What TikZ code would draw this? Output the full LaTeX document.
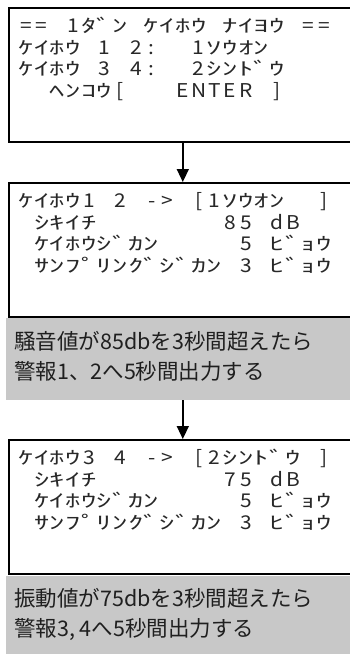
\documentclass[tikz,border=0pt]{standalone}
\usepackage{fontspec}
\usetikzlibrary{arrows.meta}
\newfontfamily\kanafont[FakeStretch=1.7]{Noto Sans CJK JP}
\newfontfamily\latfont[FakeStretch=1.1]{Noto Sans CJK JP}
\newfontfamily\jpfont{Noto Sans CJK JP}
\definecolor{panelgray}{RGB}{200,200,200}
\definecolor{lcdink}{RGB}{40,40,40}
\newlength\lcdcw \setlength\lcdcw{15.7pt}
\def\lcdend{LCDEND}
\def\lcd#1{\lcdloop#1\lcdend}
\def\lcdloop#1{\ifx\lcdend#1\else\lcdcell{#1}\expandafter\lcdloop\fi}
\def\lcdcell#1{\if.#1\hbox to\lcdcw{\hss}\else\ifnum`#1<128 \hbox to\lcdcw{\hss\latfont\fontsize{19}{19}\selectfont#1\hss}\else\hbox to\lcdcw{\hss\kanafont\fontsize{18}{18}\selectfont#1\hss}\fi\fi}
\begin{document}
\begin{tikzpicture}[x=1pt,y=-1pt,
  lcdbox/.style={draw=black, line width=1.6pt, fill=white, anchor=north west, minimum width=348pt, minimum height=134pt, inner sep=0pt},
  graypanel/.style={fill=panelgray, anchor=north west, minimum width=345pt, inner sep=0pt},
  lcdline/.style={anchor=base west, inner sep=0pt, text=lcdink},
  graytext/.style={anchor=base west, inner sep=0pt, font=\jpfont\fontsize{21.5}{24}\selectfont, text=black!88},
  flow/.style={line width=1.5pt, -{Triangle[width=12pt,length=13pt]}}]
\useasboundingbox (0,0) rectangle (349,654);
\fill[white] (0,0) rectangle (349,654);
% box 1
\node[lcdbox] (b1) at (8,7) {};
\node[lcdline] (b1l1) at (18,32.5) {\lcd{==.1ﾀﾞﾝ.ｹｲﾎｳ.ﾅｲﾖｳ.==}};
\node[lcdline] (b1l2) at (18,54) {\lcd{ｹｲﾎｳ.1.2:..1ｿｳｵﾝ}};
\node[lcdline] (b1l3) at (18,75.5) {\lcd{ｹｲﾎｳ.3.4:..2ｼﾝﾄﾞｳ}};
\node[lcdline] (b1l4) at (18,97) {\lcd{..ﾍﾝｺｳ[...ENTER.]}};
% box 2
\node[lcdbox] (b2) at (8,182) {};
\node[lcdline] (b2l1) at (18,207.5) {\lcd{ｹｲﾎｳ1.2.->.[1ｿｳｵﾝ..]}};
\node[lcdline] (b2l2) at (18,229) {\lcd{.ｼｷｲﾁ........85.dB}};
\node[lcdline] (b2l3) at (18,250.5) {\lcd{.ｹｲﾎｳｼﾞｶﾝ.....5.ﾋﾞｮｳ}};
\node[lcdline] (b2l4) at (18,272) {\lcd{.ｻﾝﾌﾟﾘﾝｸﾞｼﾞｶﾝ.3.ﾋﾞｮｳ}};
% gray note 1
\node[graypanel, minimum height=82pt] (g1) at (6,318) {};
\node[graytext] (g1a) at (14,349) {騒音値が85dbを3秒間超えたら};
\node[graytext] (g1b) at (14,379) {警報1、2へ5秒間出力する};
% box 3
\node[lcdbox] (b3) at (8,439) {};
\node[lcdline] (b3l1) at (18,464.5) {\lcd{ｹｲﾎｳ3.4.->.[2ｼﾝﾄﾞｳ.]}};
\node[lcdline] (b3l2) at (18,486) {\lcd{.ｼｷｲﾁ........75.dB}};
\node[lcdline] (b3l3) at (18,507.5) {\lcd{.ｹｲﾎｳｼﾞｶﾝ.....5.ﾋﾞｮｳ}};
\node[lcdline] (b3l4) at (18,529) {\lcd{.ｻﾝﾌﾟﾘﾝｸﾞｼﾞｶﾝ.3.ﾋﾞｮｳ}};
% gray note 2
\node[graypanel, minimum height=80pt] (g2) at (6,576) {};
\node[graytext] (g2a) at (14,606) {振動値が75dbを3秒間超えたら};
\node[graytext] (g2b) at (14,636) {警報3, 4へ5秒間出力する};
% connectors
\draw[flow] (b1.south) -- (b2.north);
\draw[flow] (g1.south -| b3.north) -- (b3.north);
\end{tikzpicture}
\end{document}
